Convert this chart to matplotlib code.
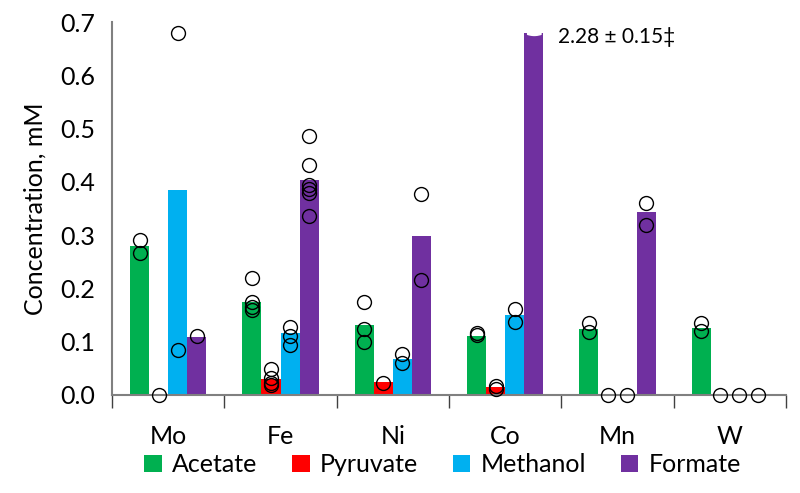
import matplotlib
matplotlib.use("Agg")
import matplotlib.pyplot as plt
import numpy as np

metals = ["Mo", "Fe", "Ni", "Co", "Mn", "W"]
series = ["Acetate", "Pyruvate", "Methanol", "Formate"]
colors = ["#00B050", "#FF0000", "#00B0F0", "#7030A0"]

acetate_mean = [0.279, 0.175, 0.131, 0.111, 0.124, 0.125]
pyruvate_mean = [0.0, 0.030, 0.024, 0.014, 0.0, 0.0]
methanol_mean = [0.385, 0.116, 0.068, 0.150, 0.0, 0.0]
formate_mean = [0.109, 0.404, 0.299, 2.28, 0.343, 0.0]

acetate_pts = [[0.291, 0.267], [0.219, 0.174, 0.165, 0.160], [0.175, 0.123, 0.100],
               [0.116, 0.112], [0.135, 0.118], [0.135, 0.120]]
pyruvate_pts = [[0.0], [0.048, 0.031, 0.023, 0.019], [0.023], [0.017, 0.011], [0.0], [0.0]]
methanol_pts = [[0.679, 0.085], [0.128, 0.111, 0.094], [0.076, 0.060], [0.162, 0.136], [0.0], [0.0]]
formate_pts = [[0.110], [0.486, 0.432, 0.395, 0.387, 0.380, 0.336], [0.378, 0.216],
               [], [0.361, 0.319], [0.0]]

means = [acetate_mean, pyruvate_mean, methanol_mean, formate_mean]
points = [acetate_pts, pyruvate_pts, methanol_pts, formate_pts]

YMAX = 0.7
CLIP = 0.680

plt.rcParams['font.family'] = ['Lato', 'DejaVu Sans']
fig = plt.figure(figsize=(8.0, 4.93), dpi=100)
ax = fig.add_axes([0.14, 0.199, 0.8425, 0.756])

x = np.arange(len(metals))
w = 0.17
offsets = [-0.255, -0.085, 0.085, 0.255]

for s in range(4):
    vals = np.minimum(np.array(means[s]), CLIP)
    ax.bar(x + offsets[s], vals, width=w, color=colors[s], label=series[s],
           edgecolor='none', zorder=2)
    for i in range(len(metals)):
        pts = points[s][i]
        if pts:
            ax.plot([x[i] + offsets[s]] * len(pts), pts, linestyle='none', marker='o',
                    markersize=10, markerfacecolor='none', markeredgecolor='black',
                    markeredgewidth=1.0, zorder=4, clip_on=False)

# broken-bar notch and label for Co formate
ci = metals.index("Co")
bx = x[ci] + offsets[3]
tt = np.linspace(-0.35 * w, 0.35 * w, 50)
ax.fill_between(bx + tt, CLIP - 0.002 - 0.002 * np.cos(tt / (0.35 * w) * np.pi / 2),
                CLIP + 0.01, color='white', zorder=3)
ax.text(bx + w / 2 + 0.13, 0.673, "2.28 ± 0.15\u2021", fontsize=15, ha='left', va='center',
        family=['Lato', 'DejaVu Sans'])

ax.set_xlim(-0.5, len(metals) - 0.5)
ax.set_ylim(0, YMAX)
ax.set_yticks(np.arange(0, 0.71, 0.1))
ax.set_yticklabels([f"{v:.1f}" for v in np.arange(0, 0.71, 0.1)])
ax.tick_params(axis='y', length=0, labelsize=18, pad=12)
ax.set_xticks(x)
ax.set_xticklabels(metals)
ax.tick_params(axis='x', length=0, labelsize=18, pad=22)
ax.set_xticks(np.arange(-0.5, len(metals), 1.0), minor=True)
ax.tick_params(axis='x', which='minor', length=9, width=1, color='#404040', direction='out')

for sp in ['top', 'right']:
    ax.spines[sp].set_visible(False)
for sp in ['left', 'bottom']:
    ax.spines[sp].set_color('#808080')
    ax.spines[sp].set_linewidth(1.5)

ax.set_ylabel("Concentration, mM", fontsize=18, labelpad=10)

handles, labels = ax.get_legend_handles_labels()
fig.legend(handles, labels, loc='center', bbox_to_anchor=(0.553, 0.057), ncol=4, frameon=False,
           fontsize=18, handlelength=0.7, handleheight=0.7, handletextpad=0.4,
           columnspacing=1.4, borderpad=0, borderaxespad=0)

fig.savefig("out.png", dpi=100)
